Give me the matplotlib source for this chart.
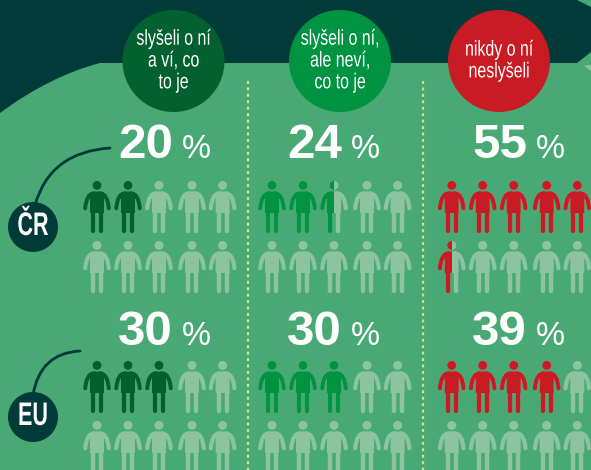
import matplotlib
matplotlib.use("Agg")
import matplotlib.pyplot as plt
import matplotlib.patheffects as pe
from matplotlib.patches import Circle, PathPatch, Polygon, Rectangle
from matplotlib.path import Path
from matplotlib.transforms import Affine2D

# Data
groups = ["ČR", "EU"]
answers = ["slyšeli o ní\na ví, co\nto je", "slyšeli o ní,\nale neví,\nco to je", "nikdy o ní\nneslyšeli"]
cz_values = [20, 24, 55]
eu_values = [30, 30, 39]
ICONS_PER_COL = 10
PER_ICON = 10

# Styles
DARK = "#003b3a"; GREEN = "#48a975"; LIGHT = "#8cc3a0"; DOT = "#cfe29a"
col_colors = ["#03612f", "#009342", "#c91b23"]
circle_x = [173.5, 340, 499]
col_x = [97, 272, 451.7]
col_off = [0, 31, 62, 95, 125.6]
num_x = [118, 287, 472]
pct_x = [182, 351, 536]

fig = plt.figure(figsize=(5.91, 4.70), dpi=100)
ax = fig.add_axes([0, 0, 1, 1])
ax.set_xlim(0, 591); ax.set_ylim(470, 0); ax.axis("off")


class Condense(pe.AbstractPathEffect):
    """Draw text narrower around a fixed display x, as no condensed font is installed."""
    def __init__(self, x_data, factor):
        super().__init__()
        self.x_data, self.factor = x_data, factor

    def draw_path(self, renderer, gc, tpath, affine, rgbFace=None):
        cx = ax.transData.transform((self.x_data, 0))[0]
        squeeze = Affine2D().translate(-cx, 0).scale(self.factor, 1).translate(cx, 0)
        renderer.draw_path(gc, tpath, affine + squeeze, rgbFace)


ax.add_patch(Rectangle((0, 0), 591, 470, fc=GREEN, ec="none", zorder=0))
v = [(0, 0), (577, 0), (591, 7), (591, 52), (577, 63), (100, 63), (50, 76), (0, 113), (0, 0)]
c = [Path.MOVETO, Path.LINETO, Path.LINETO, Path.LINETO, Path.LINETO, Path.LINETO, Path.CURVE3, Path.CURVE3, Path.CLOSEPOLY]
ax.add_patch(PathPatch(Path(v, c), fc=DARK, ec="none", zorder=1))
ax.add_patch(Polygon([(584, 65.5), (591, 65), (591, 71)], closed=True, fc=LIGHT, ec="none", zorder=1))

for x in (248, 423):
    ax.plot([x, x], [81, 470], color=DOT, lw=1.6, ls=(0, (1.3, 1.6)), dash_capstyle="butt", zorder=2)


def person(cx, top, color, z, half=False):
    parts = []
    parts.append(Circle((cx, top + 4.4), 4.5, fc=color, ec="none", zorder=z))
    torso = [(cx - 3.5, top + 10.4), (cx + 3.5, top + 10.4), (cx + 7, top + 13), (cx + 7, top + 32),
             (cx - 7, top + 32), (cx - 7, top + 13)]
    parts.append(Polygon(torso, closed=True, fc=color, ec="none", zorder=z))
    for s in (-1, 1):
        arm = Path([(cx + s * 3, top + 12.4), (cx + s * 10.5, top + 12.4), (cx + s * 11.8, top + 27.3)],
                   [Path.MOVETO, Path.CURVE3, Path.CURVE3])
        parts.append(PathPatch(arm, fc="none", ec=color, lw=3.0, capstyle="round", zorder=z))
        leg = Path([(cx + s * 4.1, top + 30), (cx + s * 4.1, top + 49.6)], [Path.MOVETO, Path.LINETO])
        parts.append(PathPatch(leg, fc="none", ec=color, lw=3.2, capstyle="round", zorder=z))
    for p in parts:
        ax.add_patch(p)
        if half:
            p.set_clip_path(Rectangle((cx - 20, top - 2), 20, 60, transform=ax.transData))


row_tops = {"ČR": (181, 241), "EU": (361, 421)}
num_base = {"ČR": 158, "EU": 345}
for g, values in zip(groups, (cz_values, eu_values)):
    for j, val in enumerate(values):
        ax.text(num_x[j], num_base[g], str(val), fontsize=35.5, fontweight="bold", color="white",
                family="Liberation Sans", ha="left", va="baseline", zorder=5)
        ax.text(pct_x[j], num_base[g], "%", fontsize=23.5, color="white",
                family="Liberation Sans", ha="left", va="baseline", zorder=5)
        filled = round(val / PER_ICON * 2) / 2
        for i in range(ICONS_PER_COL):
            top = row_tops[g][i // 5]
            cx = col_x[j] + col_off[i % 5]
            person(cx, top, LIGHT, 3)
            if filled >= i + 1:
                person(cx, top, col_colors[j], 4)
            elif filled > i:
                person(cx, top, col_colors[j], 4, half=True)

for x, col, label in zip(circle_x, col_colors, answers):
    ax.add_patch(Circle((x, 61), 51, fc=col, ec="none", zorder=5))
    ax.text(x, 61, label, color="white", fontsize=15.5, family="Liberation Sans",
            ha="center", va="center", linespacing=1.05, zorder=6, path_effects=[Condense(x, 0.74)])

for (xs, ys), y, g in (((( 110, 50, 35), (148, 152, 205)), 227, "ČR"), (((80, 40, 33), (351, 353, 395)), 417, "EU")):
    ax.add_patch(PathPatch(Path(list(zip(xs, ys)), [Path.MOVETO, Path.CURVE3, Path.CURVE3]), fc="none", ec=DARK,
                           lw=2, capstyle="round", zorder=5))
    ax.add_patch(Circle((33, y), 25, fc=DARK, ec="none", zorder=6))
    ax.text(33, y - 0.5, g, color="white", fontsize=23.5, fontweight="bold", family="Liberation Sans",
            ha="center", va="center", zorder=7, path_effects=[Condense(33, 0.66)])

fig.savefig("out.png", dpi=100)
